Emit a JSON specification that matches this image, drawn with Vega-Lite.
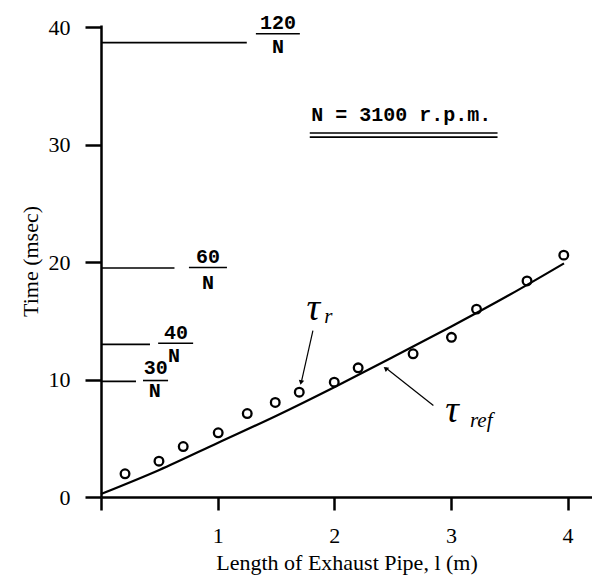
{
  "$schema": "https://vega.github.io/schema/vega-lite/v6.json",
  "width": 491,
  "height": 472,
  "autosize": "none",
  "padding": {"left": 101, "top": 25, "right": 0, "bottom": 86},
  "background": "white",
  "config": {"view": {"stroke": null}},
  "encoding": {
    "x": {
      "field": "x", "type": "quantitative",
      "scale": {"domain": [0, 4.21], "nice": false, "zero": false},
      "axis": {
        "title": "Length of Exhaust Pipe, l (m)",
        "values": [0, 1, 2, 3, 4],
        "labelExpr": "datum.value == 0 ? '' : datum.label",
        "grid": false,
        "domainColor": "black", "domainWidth": 2.5,
        "tickColor": "black", "tickWidth": 2.5, "tickSize": 13,
        "labelFont": "Liberation Serif", "labelFontSize": 22, "labelColor": "black", "labelPadding": 15,
        "titleFont": "Liberation Serif", "titleFontSize": 22, "titleFontWeight": "normal", "titleColor": "black", "titlePadding": 6
      }
    },
    "y": {
      "field": "y", "type": "quantitative",
      "scale": {"domain": [0, 40.2], "nice": false, "zero": false},
      "axis": {
        "title": "Time (msec)",
        "values": [0, 10, 20, 30, 40],
        "grid": false,
        "domainColor": "black", "domainWidth": 2.5,
        "tickColor": "black", "tickWidth": 2.5, "tickSize": 16,
        "labelFont": "Liberation Serif", "labelFontSize": 22, "labelColor": "black", "labelPadding": 15,
        "titleFont": "Liberation Serif", "titleFontSize": 22, "titleFontWeight": "normal", "titleColor": "black", "titlePadding": 6
      }
    }
  },
  "layer": [
    {
      "data": {"values": [
        {"x": 0, "y": 0.25}, {"x": 0.5, "y": 2.3}, {"x": 1, "y": 4.6}, {"x": 1.5, "y": 6.9},
        {"x": 2, "y": 9.35}, {"x": 2.5, "y": 11.9}, {"x": 3, "y": 14.5}, {"x": 3.5, "y": 17.2}, {"x": 3.97, "y": 19.9}
      ]},
      "mark": {"type": "line", "color": "black", "strokeWidth": 2.2, "interpolate": "monotone"}
    },
    {
      "data": {"values": [
        {"x": 0.206, "y": 1.98}, {"x": 0.497, "y": 3.05}, {"x": 0.705, "y": 4.3}, {"x": 1.005, "y": 5.47},
        {"x": 1.254, "y": 7.11}, {"x": 1.494, "y": 8.05}, {"x": 1.7, "y": 8.93}, {"x": 2.0, "y": 9.78},
        {"x": 2.205, "y": 11.0}, {"x": 2.676, "y": 12.2}, {"x": 3.005, "y": 13.6}, {"x": 3.22, "y": 16.0},
        {"x": 3.653, "y": 18.4}, {"x": 3.968, "y": 20.6}
      ]},
      "mark": {"type": "point", "shape": "circle", "filled": false, "color": "black", "strokeWidth": 2.3, "size": 75, "opacity": 1}
    },
    {
      "data": {"values": [
        {"x": 0, "x2": 1.25, "y": 38.7, "y2": 38.7},
        {"x": 0, "x2": 0.63, "y": 19.5, "y2": 19.5},
        {"x": 0, "x2": 0.42, "y": 13.0, "y2": 13.0},
        {"x": 0, "x2": 0.3, "y": 9.85, "y2": 9.85},
        {"x": 1.328, "x2": 1.705, "y": 39.45, "y2": 39.45},
        {"x": 0.754, "x2": 1.08, "y": 19.55, "y2": 19.55},
        {"x": 0.49, "x2": 0.79, "y": 13.1, "y2": 13.1},
        {"x": 0.36, "x2": 0.575, "y": 9.92, "y2": 9.92},
        {"x": 1.79, "x2": 3.4, "y": 31.0, "y2": 31.0},
        {"x": 1.79, "x2": 3.4, "y": 30.65, "y2": 30.65}
      ]},
      "mark": {"type": "rule", "color": "black", "strokeWidth": 1.6},
      "encoding": {"x2": {"field": "x2"}, "y2": {"field": "y2"}}
    },
    {
      "data": {"values": [
        {"x": 1.817, "x2": 1.72, "y": 14.18, "y2": 9.9},
        {"x": 2.85, "x2": 2.44, "y": 7.79, "y2": 11.0}
      ]},
      "mark": {"type": "rule", "color": "black", "strokeWidth": 1.2},
      "encoding": {"x2": {"field": "x2"}, "y2": {"field": "y2"}}
    },
    {
      "data": {"values": [{"x": 1.715, "y": 9.75}]},
      "mark": {"type": "point", "shape": "triangle-down", "filled": true, "color": "black", "size": 30, "angle": 12, "opacity": 1}
    },
    {
      "data": {"values": [{"x": 2.44, "y": 10.95}]},
      "mark": {"type": "point", "shape": "triangle-up", "filled": true, "color": "black", "size": 30, "angle": 308, "opacity": 1}
    },
    {
      "data": {"values": [
        {"x": 1.517, "y": 40.4, "label": "120"}, {"x": 1.517, "y": 38.29, "label": "N"},
        {"x": 0.917, "y": 20.4, "label": "60"}, {"x": 0.917, "y": 18.19, "label": "N"},
        {"x": 0.643, "y": 13.93, "label": "40"}, {"x": 0.626, "y": 12.05, "label": "N"},
        {"x": 0.47, "y": 10.95, "label": "30"}, {"x": 0.46, "y": 8.99, "label": "N"}
      ]},
      "mark": {"type": "text", "font": "Liberation Mono", "fontWeight": "bold", "fontSize": 20, "color": "black", "align": "center", "baseline": "middle"},
      "encoding": {"text": {"field": "label"}}
    },
    {
      "data": {"values": [{"x": 2.575, "y": 32.5, "label": "N = 3100 r.p.m."}]},
      "mark": {"type": "text", "font": "Liberation Mono", "fontWeight": "bold", "fontSize": 20, "color": "black", "align": "center", "baseline": "middle"},
      "encoding": {"text": {"field": "label"}}
    },
    {
      "data": {"values": [{"x": 1.82, "y": 16.0, "label": "τ"}, {"x": 3.01, "y": 7.3, "label": "τ"}]},
      "mark": {"type": "text", "font": "Liberation Serif", "fontStyle": "italic", "fontSize": 38, "color": "black", "align": "center", "baseline": "middle"},
      "encoding": {"text": {"field": "label"}}
    },
    {
      "data": {"values": [{"x": 1.95, "y": 15.3, "label": "r"}, {"x": 3.26, "y": 6.5, "label": "ref"}]},
      "mark": {"type": "text", "font": "Liberation Serif", "fontStyle": "italic", "fontSize": 21, "color": "black", "align": "center", "baseline": "middle"},
      "encoding": {"text": {"field": "label"}}
    }
  ]
}
